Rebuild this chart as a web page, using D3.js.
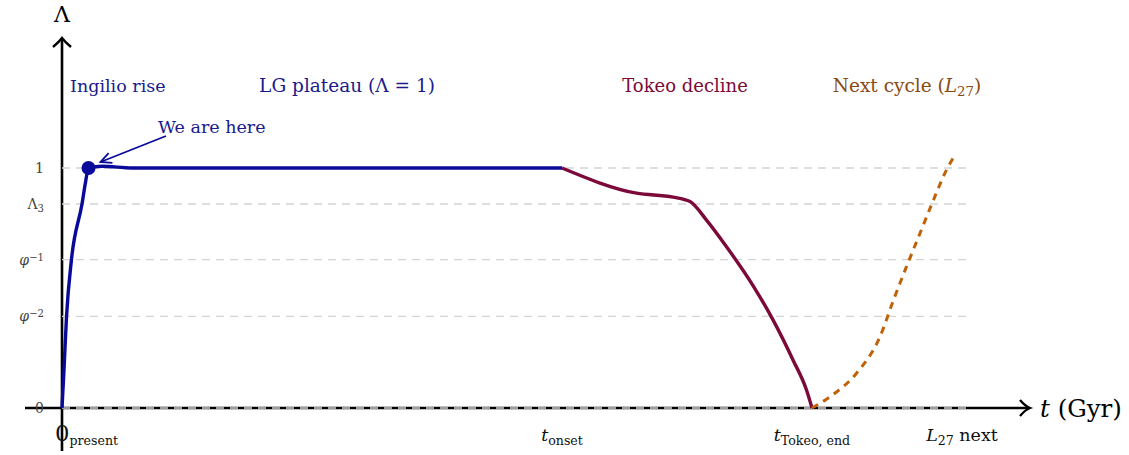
<!DOCTYPE html>
<html>
<head>
<meta charset="utf-8">
<script src="https://cdn.jsdelivr.net/npm/d3@7"></script>
<style>
  html, body { margin: 0; padding: 0; background: #fff; }
  svg text { font-family: "DejaVu Serif", serif; }
</style>
</head>
<body>
<div id="chart"></div>
<script>
// Lambda(t) life-cycle sketch
const PHI = (1 + Math.sqrt(5)) / 2;

// rise + plateau (navy)
const riseT   = [0, 0.04, 0.09, 0.19, 0.40, 0.47, 0.53, 0.80, 1.40, 10];
const riseL   = [0, 0.16, 0.38, 0.62, 0.85, 0.94, 1.0, 1.007, 1.0, 1.0];
// decline (maroon)
const declT   = [10, 11.49, 12.22, 12.56, 12.89, 13.29, 13.82, 14.22, 14.62, 14.89, 15];
const declL   = [1.0, 0.895, 0.879, 0.86, 0.783, 0.672, 0.51, 0.367, 0.2, 0.075, 0];
// next cycle (dashed orange)
const nextT   = [15, 15.36, 15.89, 16.36, 16.63, 16.89, 17.16, 17.43, 17.69, 17.86];
const nextL   = [0, 0.047, 0.145, 0.297, 0.45, 0.589, 0.728, 0.867, 0.992, 1.054];

const herePoint = { t: 0.53, L: 1.0 };

const yTickVals = [0, 1 / (PHI * PHI), 1 / PHI, 0.85, 1];
const yTickLabels = [
  [{ s: "0" }],
  [{ s: "φ", i: true }, { s: "−2", sup: true }],
  [{ s: "φ", i: true }, { s: "−1", sup: true }],
  [{ s: "Λ" }, { s: "3", sub: true }],
  [{ s: "1" }]
];
const xTickVals = [0, 10, 15, 18];
const xTickLabels = [
  [{ s: "0", big: true }, { s: "present", sub: true }],
  [{ s: "t", i: true }, { s: "onset", sub: true }],
  [{ s: "t", i: true }, { s: "Tokeo, end", sub: true }],
  [{ s: "L", i: true }, { s: "27", sub: true }, { s: " next" }]
];

const W = 1129, H = 455;
const svg = d3.select("#chart").append("svg").attr("width", W).attr("height", H);

const x = d3.scaleLinear().domain([0, 18]).range([62, 962]);
const y = d3.scaleLinear().domain([0, 1]).range([408, 168]);

const NAVY = "#0a0a9a", TEXTNAVY = "#1a1a8c", MAROON = "#7b0a3a", ORANGE = "#c0620a", BROWN = "#8a4a14";

// rich text helper (sub / sup / italic)
function rich(sel, parts, size) {
  parts.forEach(p => {
    const ts = sel.append("tspan").text(p.s);
    if (p.i) ts.attr("font-style", "italic");
    if (p.sub) ts.attr("font-size", size * 0.72).attr("baseline-shift", "-28%");
    else if (p.sup) ts.attr("font-size", size * 0.72).attr("baseline-shift", "42%");
    else if (p.big) ts.attr("font-size", size * 1.3);
  });
  return sel;
}

// axes
svg.append("line").attr("x1", 25).attr("x2", 1028).attr("y1", y(0)).attr("y2", y(0))
  .attr("stroke", "#000").attr("stroke-width", 2.6);
svg.append("line").attr("x1", x(0)).attr("x2", x(0)).attr("y1", 451).attr("y2", 39)
  .attr("stroke", "#000").attr("stroke-width", 2.6);
svg.append("path").attr("d", `M1020,400 Q1025,406 1030,${y(0)} Q1025,410 1020,416`)
  .attr("fill", "none").attr("stroke", "#000").attr("stroke-width", 2.4);
svg.append("path").attr("d", `M${x(0)-9},47 Q${x(0)-3},42 ${x(0)},38 Q${x(0)+3},42 ${x(0)+9},47`)
  .attr("fill", "none").attr("stroke", "#000").attr("stroke-width", 2.4);

svg.append("text").attr("x", x(0)).attr("y", 22).attr("text-anchor", "middle")
  .attr("font-size", 22).text("Λ");
rich(svg.append("text").attr("x", 1040).attr("y", 417).attr("font-size", 24.5),
  [{ s: "t", i: true }, { s: " (Gyr)" }], 24.5);

// gridlines
svg.append("g").selectAll("line").data(yTickVals).join("line")
  .attr("x1", x(0)).attr("x2", x(18.2)).attr("y1", d => y(d)).attr("y2", d => y(d))
  .attr("stroke", "#d4d4d4").attr("stroke-width", 1.3).attr("stroke-dasharray", "8,6");

// y tick labels
svg.append("g").selectAll("text").data(yTickVals).join("text")
  .attr("x", 44).attr("y", d => y(d) + 5).attr("text-anchor", "end")
  .attr("font-size", 14).attr("fill", "#444")
  .each(function(d, i) { rich(d3.select(this), yTickLabels[i], 14); });

// x tick labels
svg.append("g").selectAll("text").data(xTickVals).join("text")
  .attr("x", (d, i) => i === 0 ? x(d) - 7 : x(d)).attr("y", 441)
  .attr("text-anchor", (d, i) => i === 0 ? "start" : "middle")
  .attr("font-size", 17.5).attr("fill", "#111")
  .each(function(d, i) { rich(d3.select(this), xTickLabels[i], 17.5); });

// curves
const line = d3.line().x(d => x(d[0])).y(d => y(d[1])).curve(d3.curveMonotoneX);
svg.append("path").datum(d3.zip(riseT, riseL)).attr("d", line)
  .attr("fill", "none").attr("stroke", NAVY).attr("stroke-width", 3.4);
svg.append("path").datum(d3.zip(declT, declL)).attr("d", line)
  .attr("fill", "none").attr("stroke", MAROON).attr("stroke-width", 3.4);
svg.append("path").datum(d3.zip(nextT, nextL)).attr("d", line)
  .attr("fill", "none").attr("stroke", ORANGE).attr("stroke-width", 3)
  .attr("stroke-dasharray", "7,6");

// we are here
svg.append("circle").attr("cx", x(herePoint.t)).attr("cy", y(herePoint.L)).attr("r", 7)
  .attr("fill", NAVY);
const ax = x(herePoint.t) + 12, ay = y(herePoint.L) - 6;
svg.append("line").attr("x1", 166).attr("y1", 136).attr("x2", ax).attr("y2", ay)
  .attr("stroke", NAVY).attr("stroke-width", 1.8);
const ang = Math.atan2(136 - ay, 166 - ax);
const head = [ang + 0.45, ang - 0.45].map(a => [ax + 12 * Math.cos(a), ay + 12 * Math.sin(a)]);
svg.append("path").attr("d", `M${head[0]}L${ax},${ay}L${head[1]}`)
  .attr("fill", "none").attr("stroke", NAVY).attr("stroke-width", 1.8);
svg.append("text").attr("x", 158).attr("y", 133).attr("font-size", 17.5).attr("fill", TEXTNAVY)
  .text("We are here");

// phase labels
svg.append("text").attr("x", 70).attr("y", 92).attr("font-size", 17.5).attr("fill", TEXTNAVY)
  .text("Ingilio rise");
svg.append("text").attr("x", 347).attr("y", 92).attr("text-anchor", "middle")
  .attr("font-size", 18.5).attr("fill", TEXTNAVY).text("LG plateau (Λ = 1)");
svg.append("text").attr("x", 685).attr("y", 92).attr("text-anchor", "middle")
  .attr("font-size", 18).attr("fill", MAROON).text("Tokeo decline");
rich(svg.append("text").attr("x", 907).attr("y", 92).attr("text-anchor", "middle")
  .attr("font-size", 18.5).attr("fill", BROWN),
  [{ s: "Next cycle (" }, { s: "L", i: true }, { s: "27", sub: true }, { s: ")" }], 18.5);
</script>
</body>
</html>
